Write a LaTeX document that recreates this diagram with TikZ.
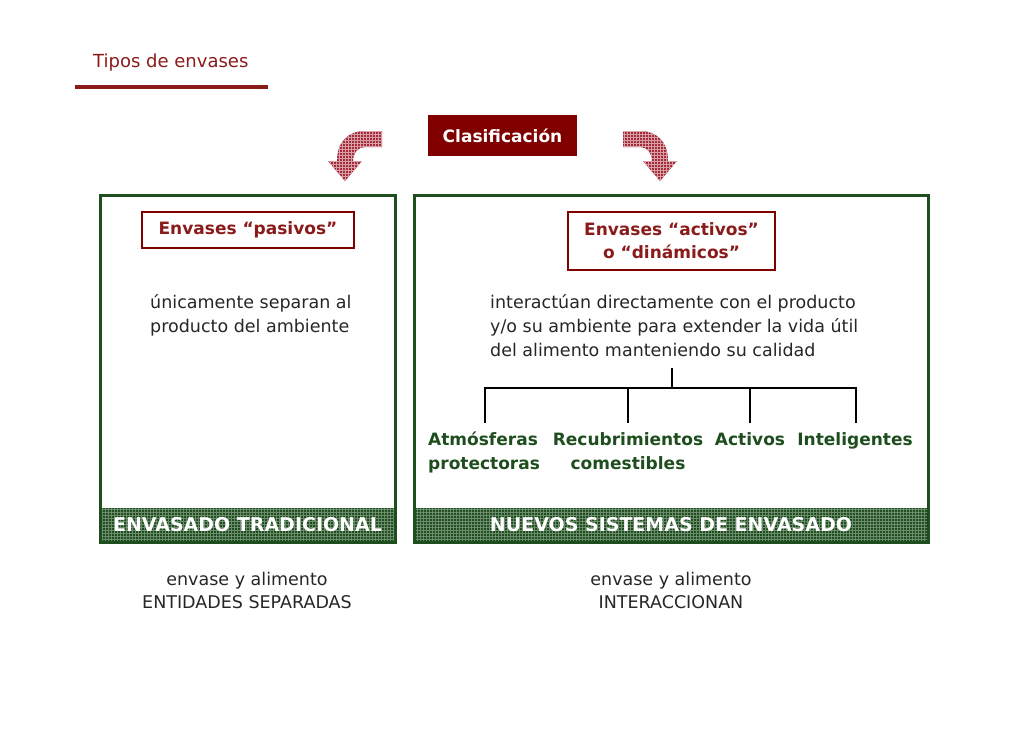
\documentclass[tikz,border=0pt]{standalone}
\usepackage{fontspec}
\setmainfont{DejaVu Sans}
\usetikzlibrary{patterns}
\definecolor{dred}{HTML}{800000}
\definecolor{tred}{HTML}{8B1A1A}
\definecolor{arr}{HTML}{A52A3A}
\definecolor{dgreen}{HTML}{1E4D1E}
\begin{document}
\begin{tikzpicture}[x=1pt,y=-1pt,
  txt/.style={font=\fontsize{17.5}{21}\selectfont, text=black!85},
  gbold/.style={font=\bfseries\fontsize{17}{24}\selectfont, text=dgreen, inner sep=0pt},
  frame/.style={draw=dgreen, line width=3pt},
  bar/.style={fill=dgreen},
  bartxt/.style={font=\bfseries\fontsize{19}{22}\selectfont, text=white},
  redbox/.style={draw=dred, line width=2.5pt, font=\bfseries\fontsize{17}{23}\selectfont, text=tred, align=center, inner sep=0pt},
  tree/.style={draw=black, line width=1.5pt},
  curvarrow/.style={fill=arr, postaction={pattern=grid, pattern color=white!55!arr}}]
\useasboundingbox (0,0) rectangle (1030,728);
% title
\node[anchor=west, text=tred, font=\fontsize{18}{20}\selectfont, inner sep=0pt] (title) at (93,63) {Tipos de envases};
\draw[tred, line width=4pt] (75,87) -- (268,87);
% classification
\node[fill=dred, minimum width=149pt, minimum height=41pt, text=white, font=\bfseries\fontsize{17}{20}\selectfont] (clas) at (502.5,135.5) {Clasificación};
% arrows
\def\arrowpath{(382,131) -- (365,131) .. controls (348,131) and (337,142) .. (337,161) -- (328,161) -- (345,181) -- (362,161) -- (353,161) .. controls (353,153) and (358,147) .. (365,147) -- (382,147) -- cycle}
\path[curvarrow] \arrowpath;
\begin{scope}[shift={(1005,0)}, xscale=-1]
\path[curvarrow] \arrowpath;
\end{scope}
% frames
\fill[bar] (100,508) rectangle (395,542);
\draw[pattern=grid, pattern color=white!35!dgreen, draw=none] (100,508) rectangle (395,542);
\fill[bar] (414,508) rectangle (928,542);
\draw[pattern=grid, pattern color=white!35!dgreen, draw=none] (414,508) rectangle (928,542);
\draw[frame] (100,195) rectangle (395,542);
\draw[frame] (414,195) rectangle (928,542);
\node[bartxt] (bl) at (247.5,525) {ENVASADO TRADICIONAL};
\node[bartxt] (br) at (671,525) {NUEVOS SISTEMAS DE ENVASADO};
% headers
\node[redbox, minimum width=212pt, minimum height=36pt] (pas) at (248,230) {Envases “pasivos”};
\node[redbox, minimum width=207pt, minimum height=58pt] (act) at (671.5,241) {Envases “activos”\\o “dinámicos”};
% texts
\node[txt, anchor=north west, align=left, inner sep=0pt, font=\fontsize{17.5}{24}\selectfont] (lt) at (150,294) {únicamente separan al\\producto del ambiente};
\node[txt, anchor=north west, align=left, inner sep=0pt, font=\fontsize{17.5}{24}\selectfont] (rt) at (490,294) {interactúan directamente con el producto\\y/o su ambiente para extender la vida útil\\del alimento manteniendo su calidad};
% tree
\coordinate (t0) at (672,368);
\coordinate (t1) at (672,388);
\draw[tree] (t0) -- (t1);
\draw[tree] (485,388) -- (856,388);
\foreach \x in {485,628,750,856} \draw[tree] (\x,387) -- (\x,423);
\node[gbold, anchor=north west, align=left] (c1) at (428,432) {Atmósferas\\protectoras};
\node[gbold, anchor=north, align=center] (c2) at (628,432) {Recubrimientos\\comestibles};
\node[gbold, anchor=north] (c3) at (750,432) {Activos};
\node[gbold, anchor=north] (c4) at (855,432) {Inteligentes};
% bottom
\node[txt, align=center, font=\fontsize{17.5}{23}\selectfont] (bl2) at (247,590) {envase y alimento\\ENTIDADES SEPARADAS};
\node[txt, align=center, font=\fontsize{17.5}{23}\selectfont] (br2) at (671,590) {envase y alimento\\INTERACCIONAN};
\end{tikzpicture}
\end{document}
